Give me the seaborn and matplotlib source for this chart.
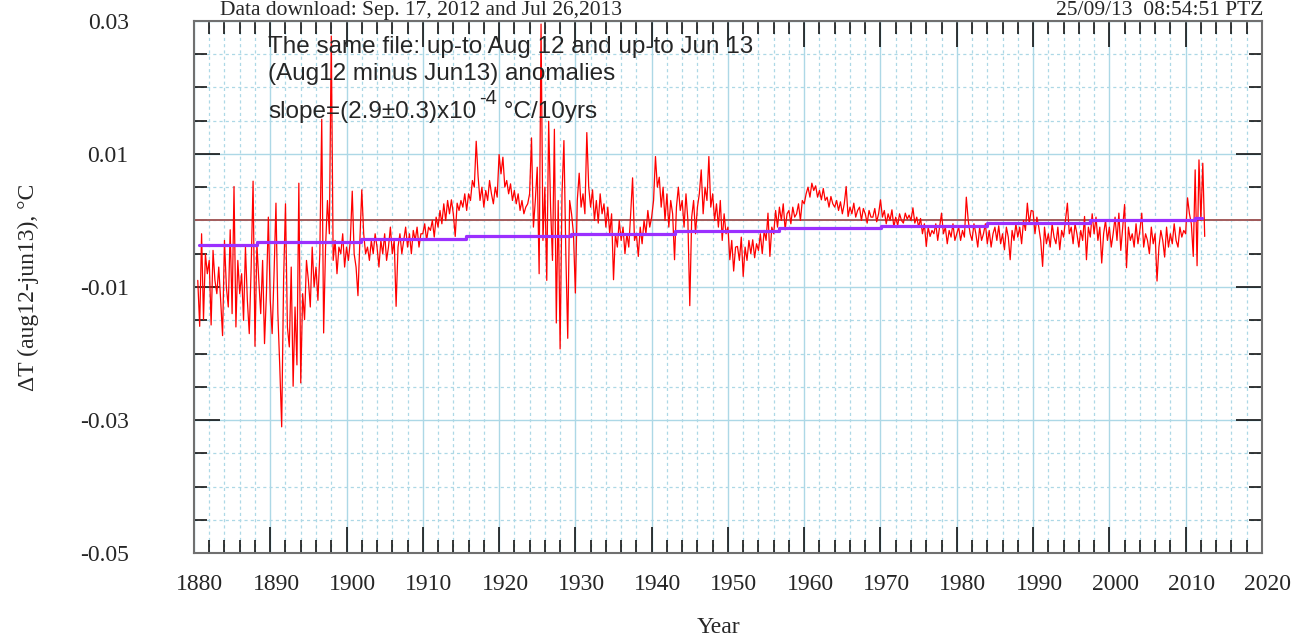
import numpy as np
import pandas as pd
import matplotlib
matplotlib.use("Agg")
import matplotlib.pyplot as plt
import matplotlib.ticker as mticker
import matplotlib.transforms as mtransforms
import seaborn as sns

# Aug12 minus Jun13 anomaly differences, every quarter year
# values in units of 1e-3 degC, first point 1880.5
d1880 = [-9, -15.9,
         -2, -14.9, -5, -8,
         -6, -15.7, -4.5, -9,
         -11, -7, -12, -17.3,
         -3, -10, -13, -1.4,
         -14, 5.1, -16, -6,
         -11, -8, -15, -4,
         -12, -17, -7, 5.9,
         -18.9, -3.5, -9, -14,
         -6, -18.5, -11, 0.5]
d1890 = [-12, -17, -8, 2.6,
         -14, -22, -31, -9,
         2.5, -16, -19, -7,
         -24.9, -13, -21.7, 5.6,
         -24.4, -11, -14.9, -6,
         -9, -13, -4, -10,
         -7, -12, -5, 15.2,
         -16.9, -4, 3, -2,
         27.7, -6, -3, -8,
         -4, -5, -2, -7]
d1900 = [-4, -6, -3, 4.4,
         -5, -7, -11.3, -3,
         4.6, -2, -5, -4,
         -6, -3, -5, -2,
         -4, -7, -3, -5,
         -2, -6, -4, -1,
         -5, -3, -12.9, -4,
         -2, -5, -3, -1,
         -4, -2, -5, -1.5,
         -3, -1, -4, -2]
d1910 = [-2, -0.5, -3, -1,
         -1.5, 0, -2.5, 0.5,
         -1, 1.5, -0.5, 2.5,
         0, 3, 1, 3.1,
         1, -2.4, 2.6, 1.5,
         3, 2, 4, 1.5,
         4, 3, 6, 5,
         11.9, 6.6, 3, 5,
         2, 4.5, 3, 6,
         4, 2.5, 5, 3.5]
d1920 = [9.9, 7, 9.5, 5,
         6, 4, 5.5, 3,
         4.5, 2.5, 4, 1.5,
         3, 1, 2, 2.5,
         4, 12.4, -1, 3,
         8, -8, 29.5, -3,
         5, -9, 14.9, 2,
         -6, 13.7, -15.4, 3,
         -19.3, 4, 12, -5,
         -17.7, 3, 1, -2]
d1930 = [-10.9, 3, 7.1, 2,
         4, 1, 13.2, 5,
         2, 4.6, 0, 3,
         -0.4, 4, 1, 2.5,
         -1, 2, -2, 1,
         -8.9, -2, -4, 0,
         -3, -1, -5, -2,
         -4, 1, 6.4, -3,
         -2, -5.4, -1, -3.5,
         0, -2, 1.5, -1]
d1940 = [0.5, 3, 9.6, 5,
         6.5, 2, 5, 0,
         4, -1, 3, 1,
         -5.9, 2, 5, 1.5,
         3, -1, 4, 0,
         -12.8, 0.5, 3, -2,
         2, 4, 7.6, 1,
         5, 3, 9.6, 2,
         4, 0, 2.5, -1,
         3, -3, 1, -2]
d1950 = [-1, -5.9, -3, -7.6,
         -4, -3.9, -6, -2.5,
         -8.4, -4, -6, -3,
         -5, -2.9, -5.6, -3.5,
         -4.5, -2, -5, -1.5,
         -3, 1.1, -5.4, -1,
         -2, 1.5, -1, 2,
         0, 2.5, -1.4, 1,
         1.5, -0.5, 2, 0.5,
         1, 2.5, 0, 3]
d1960 = [2.5, 4, 5, 3.5,
         5.6, 4.5, 5.2, 3.5,
         4.5, 3.1, 4.8, 3,
         3.5, 2, 3.6, 2.5,
         2, 3, 1.5, 2.8,
         1, 2.5, 5.1, 0.6,
         2, 1, 2.6, 0.5,
         1.5, 2, 0, 1.8,
         1, -0.4, 1.5, 0.5,
         0.5, 1.8, -0.2, 1]
d1970 = [3.1, 0.5, 1.5, -0.5,
         1, 0, 1.6, -1,
         0.5, -0.8, 1, 0,
         -0.4, 1.1, 0.2, 0.8,
         0, 1.9, -0.4, 0.5,
         -1, 0.3, -2, -0.5,
         -3.9, -1, -2.4, -1.5,
         -2, -0.5, -3, -1,
         1.1, -2, -1, -3.5,
         -1.5, -2.5, -0.5, -3]
d1980 = [-2, -1, -3, -1.5,
         -2.5, 3.5, 0, -2,
         -3, -0.5, -2, -4,
         -1, -3, -2, -0.5,
         -3.5, -1.5, -4, -2,
         -1, -3, -0.8, -3.5,
         -2, -4.4, -1, -2.5,
         -5.9, -1.5, -3, -0.5,
         -2.5, -1, -3.5, 0,
         -1.5, 2.6, -0.5, 1.5]
d1990 = [1.4, -2, 0.5, -1,
         -3, -6.9, -1, -3.5,
         -2, -4, -0.5, -2.5,
         -3.5, -1, -4.4, -1.5,
         -2.5, 0, 2.6, -2,
         -1, -3.5, -0.5, -2,
         -4, -1.5, -3, 0.6,
         -5.9, -1, -2.5, 1,
         -2, 0.5, -3, -1,
         -6.4, -2, 0, -3]
d2000 = [-1, -4, -2, 0.5,
         -3, 1.1, -4.5, -1,
         2.4, -7.1, -1, -3,
         -2, -4, -0.5, -3.5,
         -1.5, 1.1, -4, -2,
         -3, -5, -1, -3.5,
         -2, -9.1, -4, -1.5,
         -3, -5.5, -1, -4,
         -2, -3.5, -0.5, -3,
         -4, -1, -2.5, -1.5]
d2010 = [-2, 3.4, 1, -0.5,
         -5.4, 7.6, -6.8, 9.1,
         0, 8.6, -2.4]

# linear trend as drawn (staircase), 1e-3 degC
trend_years = [1880.7, 1888.3, 1901.9, 1915.7, 1929.4, 1943.1, 1956.7,
               1970.1, 1984.0, 1997.5, 2011.2, 2012.2]
trend_vals = [-3.65, -3.23, -2.8, -2.4, -2.0, -1.6, -1.2, -0.8, -0.4, 0.0, 0.4, 0.4]

sns.set_style("ticks")
plt.rcParams['font.family'] = ['Liberation Serif', 'DejaVu Serif']
plt.rcParams['axes.unicode_minus'] = False
sans = ['Liberation Sans', 'DejaVu Sans']

vals = np.concatenate([d1880, d1890, d1900, d1910, d1920, d1930, d1940,
                       d1950, d1960, d1970, d1980, d1990, d2000, d2010]) / 1000
df = pd.DataFrame({'year': 1880.5 + 0.25 * np.arange(len(vals)), 'dT': vals})
trend = pd.DataFrame({'year': trend_years, 'dT': np.array(trend_vals) / 1000})

fig = plt.figure(figsize=(13.07, 6.44), dpi=100)
ax = fig.add_axes([0.1484, 0.1408, 0.8171, 0.8270])

ax.axhline(0, color='#a35c5c', lw=1.4, zorder=2)
sns.lineplot(data=df, x='year', y='dT', color='red', lw=0.9, estimator=None, ax=ax, zorder=3)
sns.lineplot(data=trend, x='year', y='dT', color='#9b30ff', lw=2.3, drawstyle='steps-post',
             estimator=None, ax=ax, zorder=4)

ax.set_xlim(1880, 2020)
ax.set_ylim(-0.05, 0.03)
ax.xaxis.set_major_locator(mticker.MultipleLocator(10))
ax.xaxis.set_minor_locator(mticker.MultipleLocator(2))
ax.yaxis.set_major_locator(mticker.FixedLocator([-0.05, -0.03, -0.01, 0.01, 0.03]))
ax.yaxis.set_minor_locator(mticker.MultipleLocator(0.005))
ax.yaxis.set_major_formatter(mticker.FormatStrFormatter('%.2f'))

ax.set_axisbelow(True)
ax.grid(which='major', color='#add8e6', lw=1.0, ls='-')
ax.grid(which='minor', color='#add8e6', lw=0.9, ls=(0, (2.5, 2.5)))

ax.tick_params(which='major', direction='in', length=18.7, width=1.1, color='black',
               top=True, right=True, labelsize=17)
ax.tick_params(which='minor', direction='in', length=9.1, width=1.1, color='black',
               top=True, right=True)
ax.tick_params(axis='x', which='major', pad=15)
ax.tick_params(axis='y', which='major', pad=47)
for s in ax.spines.values():
    s.set_color('#707070')
    s.set_linewidth(1.5)

ax.set_xlabel('Year', fontsize=17)
ax.set_ylabel('ΔT (aug12-jun13), °C', fontsize=17)
ax.xaxis.set_label_coords(0.491, -0.12)
ax.yaxis.set_label_coords(-0.145, 0.5)

# gnuplot-like slight shift of the year labels
shift = mtransforms.ScaledTranslation(6 / 100, 0, fig.dpi_scale_trans)
for t in ax.xaxis.get_major_ticks():
    t.label1.set_transform(t.label1.get_transform() + shift)

ax.text(0.0693, 0.9388, 'The same file: up-to Aug 12 and up-to Jun 13', transform=ax.transAxes,
        family=sans, fontsize=17.5, va='baseline')
ax.text(0.0693, 0.8896, '(Aug12 minus Jun13) anomalies', transform=ax.transAxes,
        family=sans, fontsize=17.5, va='baseline')
t3 = ax.text(0.0693, 0.8167, 'slope=(2.9±0.3)x10', transform=ax.transAxes,
             family=sans, fontsize=17.5, va='baseline')
t4 = ax.annotate('-4', xy=(1, 0.8437), xycoords=(t3, 'axes fraction'), xytext=(2, 0),
                 textcoords='offset points', family=sans, fontsize=14.5, va='baseline')
ax.annotate(' °C/10yrs', xy=(1, 0.8167), xycoords=(t4, 'axes fraction'),
            family=sans, fontsize=17.5, va='baseline')

# header lines sit in the thin strip above the frame
fig.text(220 / 1307, 1 - 15 / 644, 'Data download: Sep. 17, 2012 and Jul 26,2013',
         fontsize=15.5, va='baseline', ha='left')
fig.text(1263 / 1307, 1 - 15 / 644, '25/09/13  08:54:51 PTZ',
         fontsize=15.5, va='baseline', ha='right')

fig.savefig('out.png', dpi=100)
